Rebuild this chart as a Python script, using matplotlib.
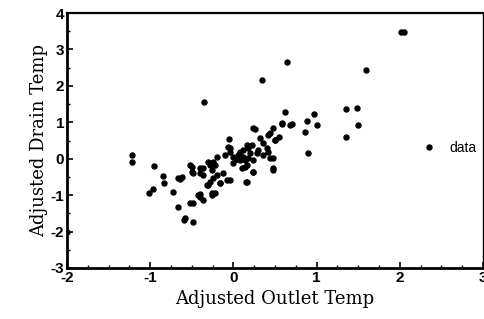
import matplotlib
matplotlib.use('Agg')
import matplotlib.pyplot as plt
from matplotlib.ticker import MultipleLocator

plt.rcParams['axes.unicode_minus'] = False

# Adjusted outlet temp (x) vs adjusted drain temp (y)
outlet = [
    -0.35, 0.64, 0.34, 2.01, 2.05, 1.59, 1.35, 1.49, 1.50, 1.35, 0.90, 0.97,
    0.88, 1.00, 0.86, 0.62, 0.68, 0.58, 0.26, 0.48, 0.42, 0.50, 0.14, 0.24,
    0.15, 0.48, 0.48, -1.22, -1.22, -0.95, -0.85, -0.83, -1.01, -0.97, -0.73,
    -0.67, -0.59, -0.49, -0.64, -0.50, -0.52, -0.48, -0.40, -0.36, -0.26,
    -0.22, -0.32, -0.28, -0.16, -0.04, 0.16, -0.40, -0.48, -0.36, -0.28,
    -0.24, -0.20, -0.04, 0.00, 0.08, -0.20, -0.24, -0.05, -0.67, -0.62,
    -0.52, -0.50, -0.40, -0.36, -0.26, -0.22, -0.30, -0.16, -0.08, -0.43,
    -0.40, -0.26, -0.58, -0.06, 0.06, 0.12, 0.16, 0.18, 0.14, 0.70, 0.58,
    0.44, 0.50, 0.24, 0.32, 0.36, 0.22, 0.18, 0.08, -0.04, 0.03, 0.12, 0.20,
    0.28, 0.36, 0.42, 0.44, 0.24, 0.16, 0.10, 0.24, 0.48, 0.00, -2.00, -0.12,
    -0.30, -0.10, 0.04, 0.30, 0.40, 0.55,
]
drain = [
    1.56, 2.66, 2.16, 3.48, 3.48, 2.44, 1.37, 1.39, 0.93, 0.60, 0.16, 1.23,
    1.04, 0.93, 0.74, 1.29, 0.93, 0.96, 0.82, 0.85, 0.65, 0.52, -0.04, -0.36,
    -0.64, -0.31, 0.02, 0.10, -0.08, -0.20, -0.47, -0.66, -0.94, -0.83, -0.91,
    -1.32, -1.68, -1.74, -0.56, -0.22, -1.22, -1.22, -1.05, -1.13, -0.94,
    -0.94, -0.72, -0.64, -0.66, -0.58, -0.64, -0.39, -0.39, -0.26, -0.17,
    -0.09, 0.05, 0.19, 0.05, -0.03, -0.45, -0.53, 0.54, -0.53, -0.50,
    -0.17, -0.36, -0.26, -0.45, -0.31, -0.17, -0.72, -0.66, -0.58, -1.00,
    -0.98, -1.00, -1.63, 0.32, 0.10, 0.24, 0.38, 0.02, -0.22, 0.95, 0.98,
    0.70, 0.52, 0.84, 0.57, 0.43, 0.38, 0.30, 0.19, 0.30, 0.00, 0.05, 0.16,
    0.16, 0.10, 0.19, 0.02, -0.03, -0.17, -0.26, -0.36, -0.26, -0.12, -2.00,
    -0.40, -0.10, 0.10, 0.00, 0.25, 0.30, 0.60,
]

fig = plt.figure(figsize=(4.85, 3.19), dpi=100)
ax = fig.add_axes([0.138, 0.160, 0.858, 0.799])

ax.plot(outlet, drain, linestyle='none', marker='o', markersize=3.6,
        color='black', label='data')

ax.set_xlim(-2, 3)
ax.set_ylim(-3, 4)
ax.xaxis.set_major_locator(MultipleLocator(1))
ax.xaxis.set_minor_locator(MultipleLocator(0.25))
ax.yaxis.set_major_locator(MultipleLocator(1))
ax.yaxis.set_minor_locator(MultipleLocator(0.5))
ax.tick_params(which='both', direction='in', top=False, right=False)
ax.tick_params(which='major', length=4, width=1.2, labelsize=11, pad=2)
ax.tick_params(which='minor', length=2.5, width=1.0)
for lbl in ax.get_xticklabels() + ax.get_yticklabels():
    lbl.set_family('Liberation Sans')
    lbl.set_fontweight('bold')

ax.spines['left'].set_linewidth(2)
ax.spines['bottom'].set_linewidth(2)
ax.spines['top'].set_linewidth(1.6)
ax.spines['right'].set_linewidth(1)

ax.set_xlabel('Adjusted Outlet Temp', family='DejaVu Serif',
              fontsize=13, labelpad=4)
ax.set_ylabel('Adjusted Drain Temp', family='DejaVu Serif',
              fontsize=13, labelpad=2)

ax.legend(loc='center right', bbox_to_anchor=(1.005, 0.47), frameon=False,
          handlelength=1.2, handletextpad=0.9, borderpad=0.1,
          prop={'family': 'Liberation Sans', 'size': 10})

fig.savefig('out.png', dpi=100)
